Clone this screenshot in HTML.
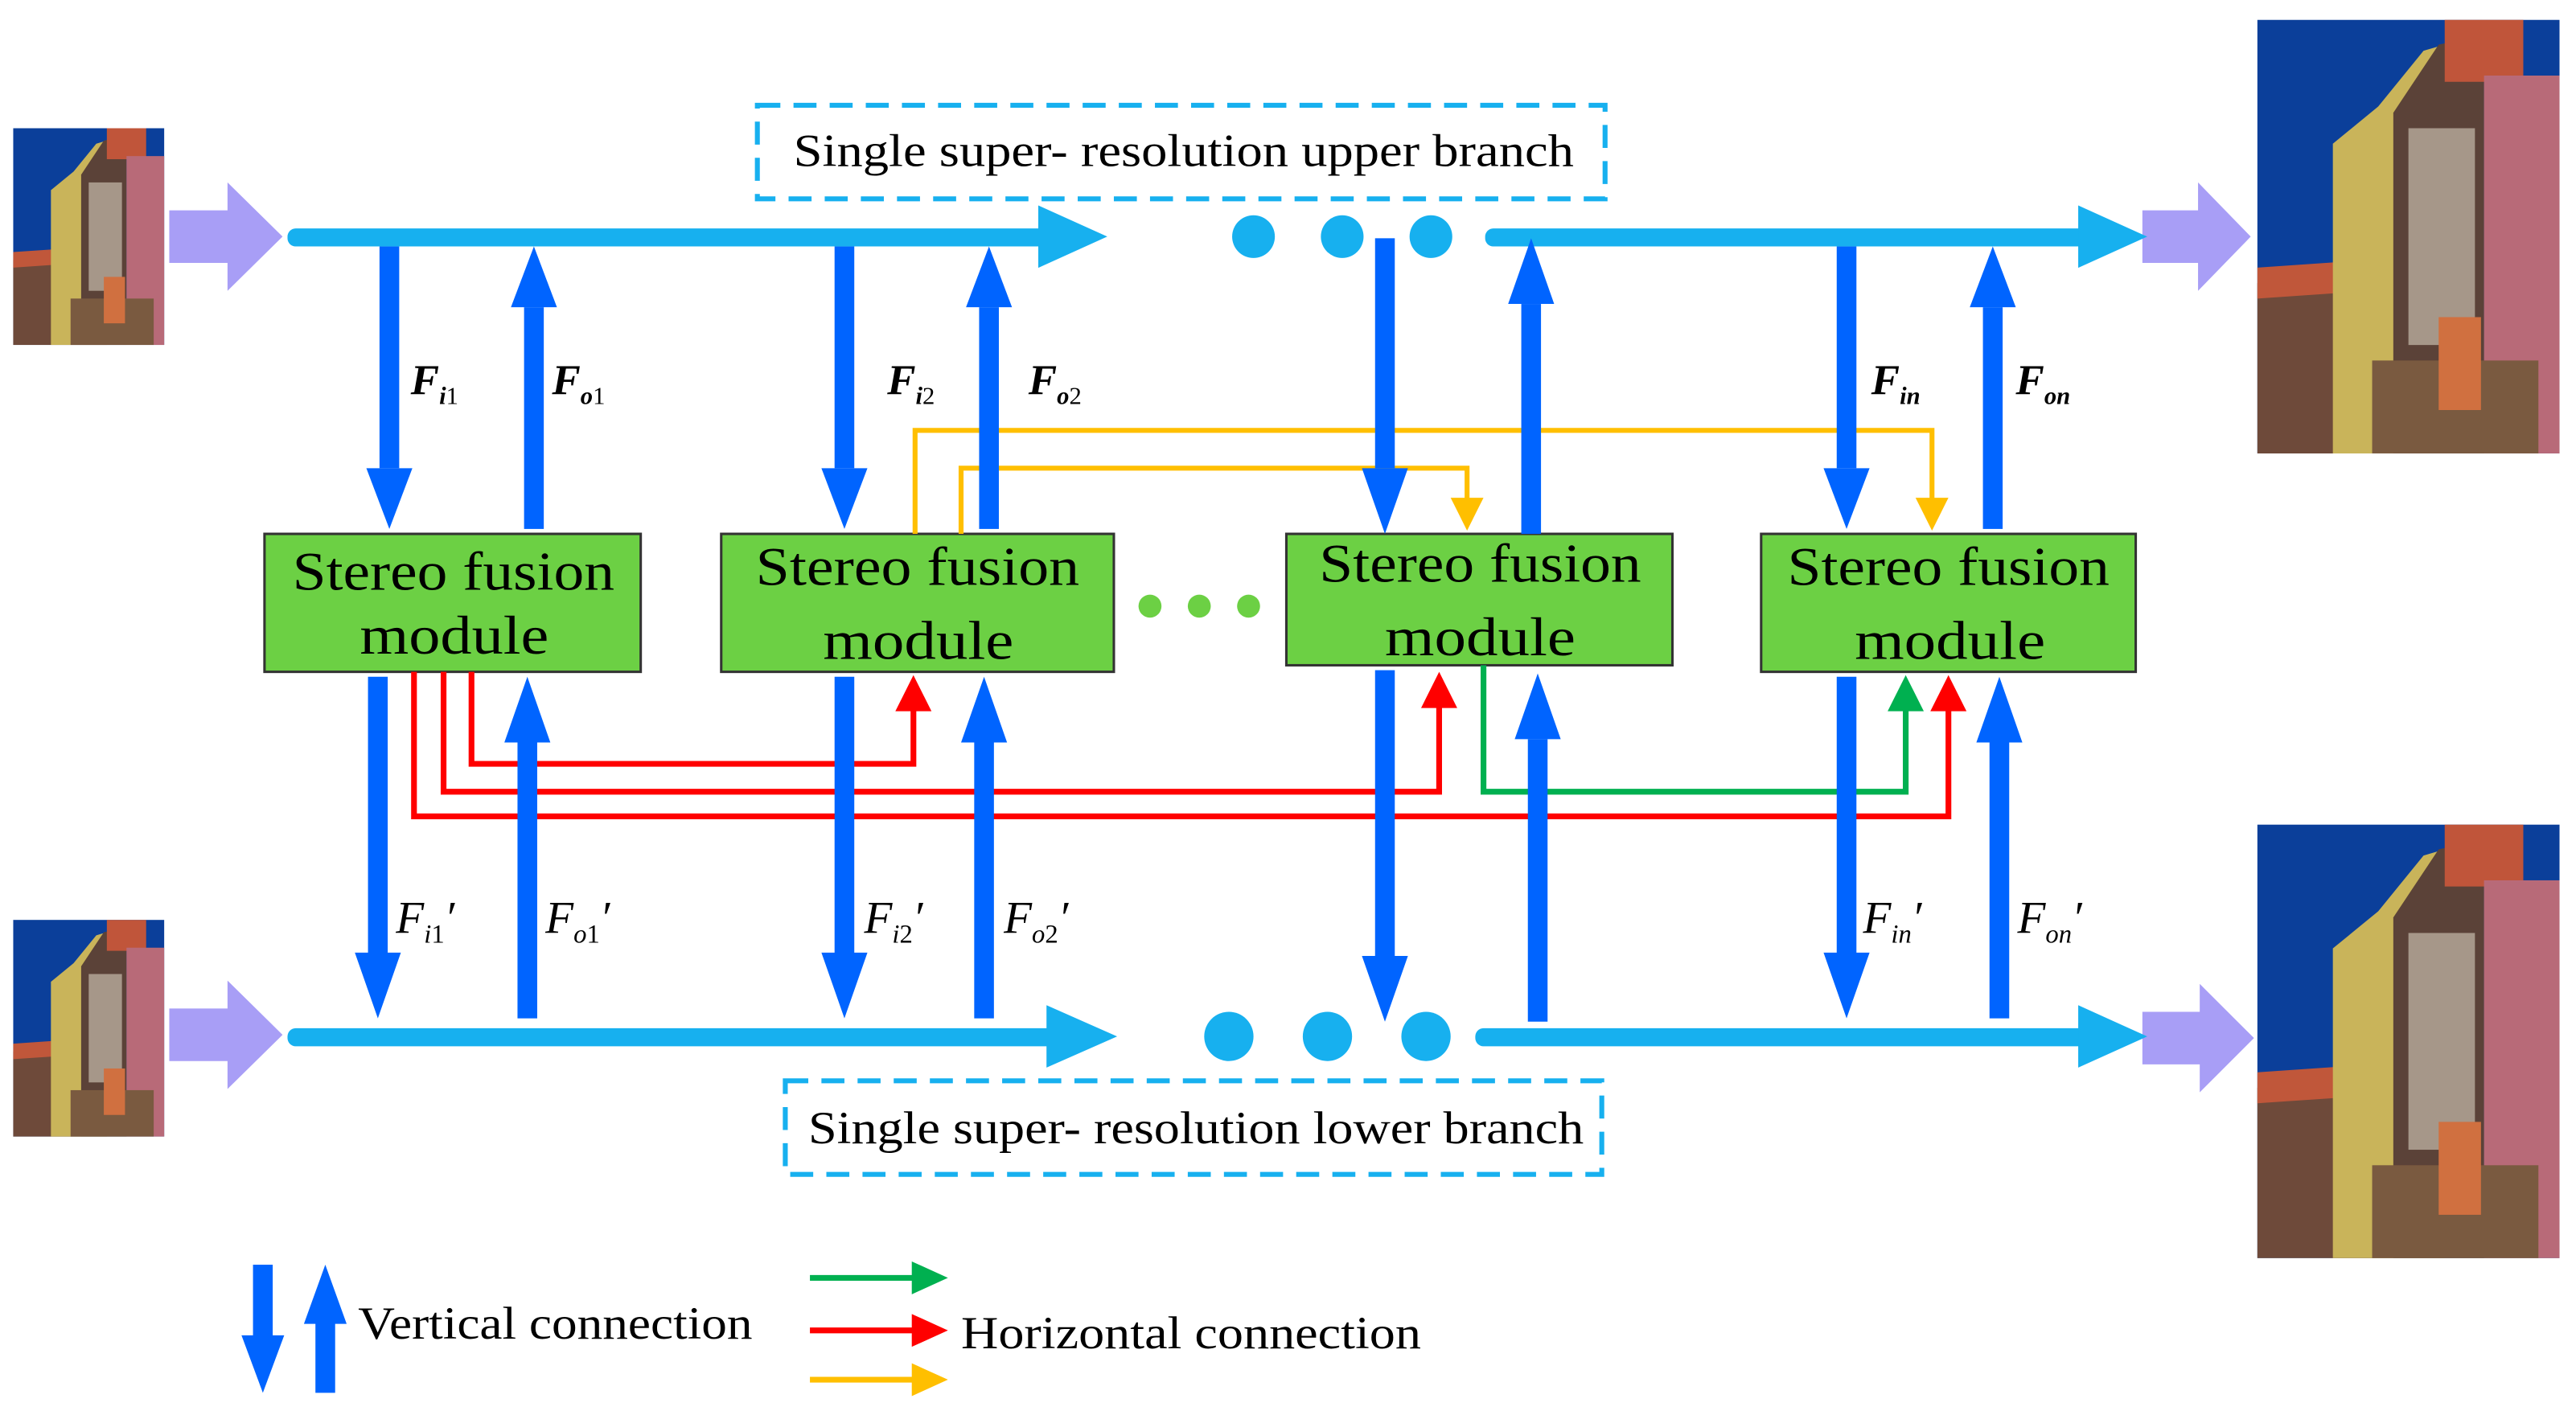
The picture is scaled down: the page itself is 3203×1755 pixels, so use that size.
<!DOCTYPE html>
<html><head><meta charset="utf-8"><style>html,body{margin:0;padding:0;background:#fff}svg{display:block}</style></head>
<body>
<svg width="3203" height="1755" viewBox="0 0 1568 859" xmlns="http://www.w3.org/2000/svg" font-family="'Liberation Serif', serif">
<defs>
<symbol id="photo" viewBox="0 0 100 140" preserveAspectRatio="none">
<rect width="100" height="140" fill="#0b3f9a"/>
<polygon points="0,85 45,80 45,140 0,140" fill="#6e4a3a"/>
<polygon points="0,80 30,78 30,88 0,90" fill="#c0573a"/>
<polygon points="25,40 40,28 55,10 62,8 62,140 25,140" fill="#c9b45a"/>
<polygon points="45,30 60,8 75,5 75,140 45,140" fill="#5b4238"/>
<rect x="50" y="35" width="22" height="70" fill="#d8d0c0" opacity="0.6"/>
<polygon points="62,0 88,0 88,20 62,20" fill="#c0553a"/>
<rect x="75" y="18" width="25" height="122" fill="#b86a78"/>
<rect x="38" y="110" width="55" height="30" fill="#7a5a40"/>
<rect x="60" y="96" width="14" height="30" fill="#d07040"/>
</symbol>
<symbol id="pa" viewBox="0 0 70 66" preserveAspectRatio="none">
<polygon points="0,17 36,17 36,0 70,33 36,66 36,49 0,49" fill="#a89ef6"/>
</symbol>
</defs>

<use href="#photo" x="8" y="78" width="92" height="132"/>
<use href="#photo" x="8" y="560" width="92" height="132"/>
<use href="#photo" x="1374" y="12" width="184" height="264"/>
<use href="#photo" x="1374" y="502" width="184" height="264"/>

<use href="#pa" x="103" y="111" width="69" height="66"/>
<use href="#pa" x="103" y="597" width="69" height="66"/>
<use href="#pa" x="1304" y="111" width="66" height="66"/>
<use href="#pa" x="1304" y="599" width="68" height="66"/>

<g fill="#17b0ef">
<rect x="175" y="139" width="465" height="11" rx="5"/>
<polygon points="632,125 674,144 632,163"/>
<circle cx="763" cy="144" r="13"/><circle cx="817" cy="144" r="13"/><circle cx="871" cy="144" r="13"/>
<rect x="904" y="139" width="368" height="11" rx="5"/>
<polygon points="1265,125 1307,144 1265,163"/>
<rect x="175" y="626" width="470" height="11" rx="5"/>
<polygon points="637,612 680,631 637,650"/>
<circle cx="748" cy="631" r="15"/><circle cx="808" cy="631" r="15"/><circle cx="868" cy="631" r="15"/>
<rect x="898" y="626" width="375" height="11" rx="5"/>
<polygon points="1265,612 1307,631 1265,650"/>
</g>

<rect x="461" y="64" width="516" height="57" fill="none" stroke="#17b0ef" stroke-width="3" stroke-dasharray="14,8"/>
<text x="483" y="101" font-size="28" textLength="475" lengthAdjust="spacingAndGlyphs">Single super- resolution upper branch</text>
<rect x="478" y="658" width="497" height="57" fill="none" stroke="#17b0ef" stroke-width="3" stroke-dasharray="14,8"/>
<text x="492" y="696" font-size="28" textLength="472" lengthAdjust="spacingAndGlyphs">Single super- resolution lower branch</text>

<g fill="#6cd044" stroke="#333" stroke-width="1.5">
<rect x="161" y="325" width="229" height="84"/>
<rect x="439" y="325" width="239" height="84"/>
<rect x="783" y="325" width="235" height="80"/>
<rect x="1072" y="325" width="228" height="84"/>
</g>
<g font-size="33" lengthAdjust="spacingAndGlyphs">
<text x="178" y="359" textLength="196" lengthAdjust="spacingAndGlyphs">Stereo fusion</text><text x="219" y="398" textLength="115" lengthAdjust="spacingAndGlyphs">module</text>
<text x="460" y="356" textLength="197" lengthAdjust="spacingAndGlyphs">Stereo fusion</text><text x="501" y="401" textLength="116" lengthAdjust="spacingAndGlyphs">module</text>
<text x="803" y="354" textLength="196" lengthAdjust="spacingAndGlyphs">Stereo fusion</text><text x="843" y="399" textLength="116" lengthAdjust="spacingAndGlyphs">module</text>
<text x="1088" y="356" textLength="196" lengthAdjust="spacingAndGlyphs">Stereo fusion</text><text x="1129" y="401" textLength="116" lengthAdjust="spacingAndGlyphs">module</text>
</g>
<g fill="#6cd044"><circle cx="700" cy="369" r="7"/><circle cx="730" cy="369" r="7"/><circle cx="760" cy="369" r="7"/></g>

<g fill="none" stroke="#ffbf00" stroke-width="3">
<polyline points="557,325 557,262 1176,262 1176,305"/>
<polyline points="585,325 585,285 893,285 893,305"/>
</g>
<g fill="#ffbf00">
<polygon points="1166,303 1186,303 1176,323"/>
<polygon points="883,303 903,303 893,323"/>
</g>

<g fill="none" stroke-width="3.5">
<polyline stroke="#ff0000" points="252,409 252,497 1186,497 1186,430"/>
<polyline stroke="#ff0000" points="270,409 270,482 876,482 876,428"/>
<polyline stroke="#ff0000" points="287,409 287,465 556,465 556,430"/>
<polyline stroke="#00b050" points="903,405 903,482 1160,482 1160,430"/>
</g>
<g fill="#ff0000">
<polygon points="545,433 567,433 556,411"/>
<polygon points="865,431 887,431 876,409"/>
<polygon points="1175,433 1197,433 1186,411"/>
</g>
<polygon fill="#00b050" points="1149,433 1171,433 1160,411"/>

<g fill="#0064ff">
<rect x="231" y="150" width="12" height="135"/><polygon points="223,285 251,285 237,322"/>
<rect x="508" y="150" width="12" height="135"/><polygon points="500,285 528,285 514,322"/>
<rect x="837" y="145" width="12" height="140"/><polygon points="829,285 857,285 843,325"/>
<rect x="1118" y="150" width="12" height="135"/><polygon points="1110,285 1138,285 1124,322"/>
<rect x="319" y="187" width="12" height="135"/><polygon points="311,187 339,187 325,150"/>
<rect x="596" y="187" width="12" height="135"/><polygon points="588,187 616,187 602,150"/>
<rect x="926" y="185" width="12" height="140"/><polygon points="918,185 946,185 932,145"/>
<rect x="1207" y="187" width="12" height="135"/><polygon points="1199,187 1227,187 1213,150"/>
<rect x="224" y="412" width="12" height="170"/><polygon points="216,580 244,580 230,620"/>
<rect x="508" y="412" width="12" height="170"/><polygon points="500,580 528,580 514,620"/>
<rect x="837" y="408" width="12" height="175"/><polygon points="829,582 857,582 843,622"/>
<rect x="1118" y="412" width="12" height="170"/><polygon points="1110,580 1138,580 1124,620"/>
<rect x="315" y="452" width="12" height="168"/><polygon points="307,452 335,452 321,412"/>
<rect x="593" y="452" width="12" height="168"/><polygon points="585,452 613,452 599,412"/>
<rect x="930" y="450" width="12" height="172"/><polygon points="922,450 950,450 936,410"/>
<rect x="1211" y="452" width="12" height="168"/><polygon points="1203,452 1231,452 1217,412"/>
</g>

<g font-size="26" font-style="italic" font-weight="bold">
<text x="250" y="240">F<tspan font-size="15" dy="6">i</tspan><tspan font-size="15" font-style="normal" font-weight="normal">1</tspan></text>
<text x="336" y="240">F<tspan font-size="15" dy="6">o</tspan><tspan font-size="15" font-style="normal" font-weight="normal">1</tspan></text>
<text x="540" y="240">F<tspan font-size="15" dy="6">i</tspan><tspan font-size="15" font-style="normal" font-weight="normal">2</tspan></text>
<text x="626" y="240">F<tspan font-size="15" dy="6">o</tspan><tspan font-size="15" font-style="normal" font-weight="normal">2</tspan></text>
<text x="1139" y="240">F<tspan font-size="15" dy="6">in</tspan></text>
<text x="1227" y="240">F<tspan font-size="15" dy="6">on</tspan></text>
</g>
<g font-size="28" font-style="italic">
<text x="241" y="568">F<tspan font-size="16" dy="6">i</tspan><tspan font-size="16" font-style="normal">1</tspan><tspan dy="-6">′</tspan></text>
<text x="332" y="568">F<tspan font-size="16" dy="6">o</tspan><tspan font-size="16" font-style="normal">1</tspan><tspan dy="-6">′</tspan></text>
<text x="526" y="568">F<tspan font-size="16" dy="6">i</tspan><tspan font-size="16" font-style="normal">2</tspan><tspan dy="-6">′</tspan></text>
<text x="611" y="568">F<tspan font-size="16" dy="6">o</tspan><tspan font-size="16" font-style="normal">2</tspan><tspan dy="-6">′</tspan></text>
<text x="1134" y="568">F<tspan font-size="16" dy="6">in</tspan><tspan dy="-6">′</tspan></text>
<text x="1228" y="568">F<tspan font-size="16" dy="6">on</tspan><tspan dy="-6">′</tspan></text>
</g>

<g fill="#0064ff">
<rect x="154" y="770" width="12" height="45"/><polygon points="147,813 173,813 160,848"/>
<rect x="192" y="805" width="12" height="43"/><polygon points="185,806 211,806 198,770"/>
</g>
<text x="218" y="815" font-size="28" textLength="240" lengthAdjust="spacingAndGlyphs">Vertical connection</text>
<g stroke-width="3.5">
<line x1="493" y1="778" x2="560" y2="778" stroke="#00b050"/>
<line x1="493" y1="810" x2="560" y2="810" stroke="#ff0000"/>
<line x1="493" y1="840" x2="560" y2="840" stroke="#ffbf00"/>
</g>
<polygon fill="#00b050" points="555,768 577,778 555,788"/>
<polygon fill="#ff0000" points="555,800 577,810 555,820"/>
<polygon fill="#ffbf00" points="555,830 577,840 555,850"/>
<text x="585" y="821" font-size="28" textLength="280" lengthAdjust="spacingAndGlyphs">Horizontal connection</text>
</svg>
</body></html>
